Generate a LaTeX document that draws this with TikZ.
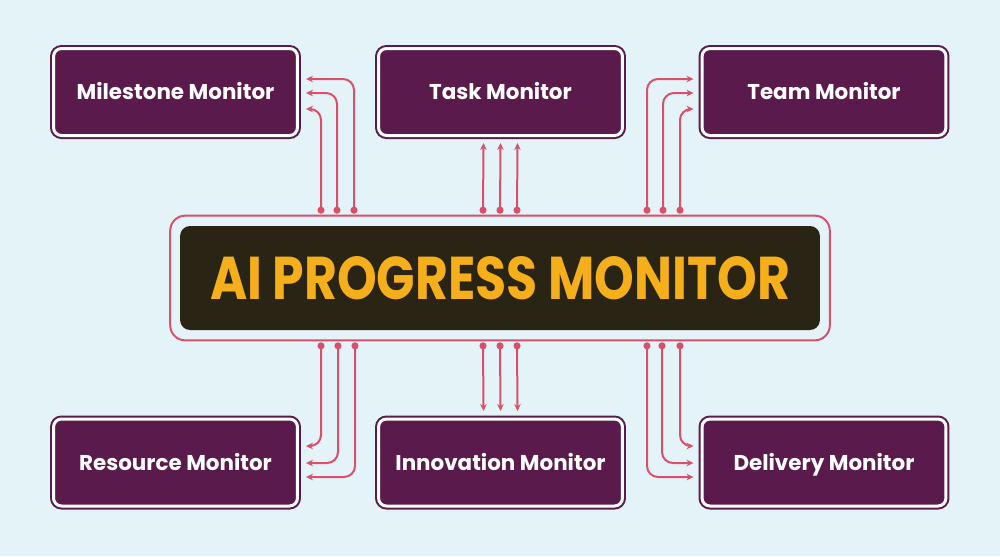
\documentclass[tikz,border=0pt]{standalone}
\usepackage{fontspec}
\setsansfont{Poppins}
\usepackage{xcolor}
\usepackage{tikz}
\usetikzlibrary{calc}
\usetikzlibrary{fit}
\usetikzlibrary{arrows.meta}
\definecolor{bgblue}{HTML}{E4F3F8}
\definecolor{monpurple}{HTML}{5A1B4C}
\definecolor{coredark}{HTML}{2A2414}
\definecolor{coregold}{HTML}{F5AF1B}
\definecolor{linkred}{HTML}{D9506B}
\tikzstyle{monbox} = [fill=monpurple, draw=monpurple, double=white,
double distance=0.06cm, line width=0.04cm, rounded corners=0.16cm,
minimum width=4.88cm, minimum height=1.74cm, outer sep=0pt,
text height=0.88em, text depth=0pt,
text=white, font=\sffamily\bfseries\fontsize{12.2}{14}\selectfont]
\tikzstyle{corebox} = [fill=coredark, rounded corners=0.2cm, inner sep=0pt,
minimum width=12.8cm, minimum height=2.08cm, text=coregold,
font=\sffamily\bfseries]
\tikzstyle{coreframe} = [draw=linkred, line width=0.04cm, rounded corners=0.3cm,
inner xsep=0.19cm, inner ysep=0.2cm, outer sep=0pt]
\tikzstyle{link} = [draw=linkred, line width=0.04cm, rounded corners=0.22cm,
{Circle[length=0.14cm]}-{Stealth[length=0.14cm,width=0.13cm]}]

\begin{document}
\begin{tikzpicture}[x=0.02cm, y=-0.02cm]
        \fill[bgblue] (0,0) rectangle (1000,556);
        \useasboundingbox (0,0) rectangle (1000,556);
        \node [corebox] (core) at (500,278) {\resizebox{11.6cm}{0.86cm}{AI PROGRESS MONITOR}};
        \node [coreframe, fit=(core)] (frame) {};
        \node [monbox] (milestone) at (175.5,92) {Milestone Monitor};
        \node [monbox] (task) at (500.5,92) {Task Monitor};
        \node [monbox] (team) at (824,92) {Team Monitor};
        \node [monbox] (resource) at (175.5,462.5) {Resource Monitor};
        \node [monbox] (innovation) at (500.5,462.5) {Innovation Monitor};
        \node [monbox] (delivery) at (824,462.5) {Delivery Monitor};
        \draw [link] ($(frame.north)+(-179,-2)$) |- ($(milestone.east)+(8.5,17)$);
        \draw [link] ($(frame.north)+(-163,-2)$) |- ($(milestone.east)+(8.5,1)$);
        \draw [link] ($(frame.north)+(-146,-2)$) |- ($(milestone.east)+(8.5,-13)$);
        \draw [link] ($(frame.north)+(-17,-2)$) -- ($(task.south)+(-17,7.5)$);
        \draw [link] ($(frame.north)+(0,-2)$) -- ($(task.south)+(0,7.5)$);
        \draw [link] ($(frame.north)+(17,-2)$) -- ($(task.south)+(17,7.5)$);
        \draw [link] ($(frame.north)+(147,-2)$) |- ($(team.west)+(-8.5,-13)$);
        \draw [link] ($(frame.north)+(163,-2)$) |- ($(team.west)+(-8.5,1)$);
        \draw [link] ($(frame.north)+(180,-2)$) |- ($(team.west)+(-8.5,17)$);
        \draw [link] ($(frame.south)+(-179,2)$) |- ($(resource.east)+(8.5,-16.5)$);
        \draw [link] ($(frame.south)+(-162,2)$) |- ($(resource.east)+(8.5,0.5)$);
        \draw [link] ($(frame.south)+(-145,2)$) |- ($(resource.east)+(8.5,14.5)$);
        \draw [link] ($(frame.south)+(-17,2)$) -- ($(innovation.north)+(-17,-8)$);
        \draw [link] ($(frame.south)+(0,2)$) -- ($(innovation.north)+(0,-8)$);
        \draw [link] ($(frame.south)+(17,2)$) -- ($(innovation.north)+(17,-8)$);
        \draw [link] ($(frame.south)+(147,2)$) |- ($(delivery.west)+(-8.5,14.5)$);
        \draw [link] ($(frame.south)+(162,2)$) |- ($(delivery.west)+(-8.5,0.5)$);
        \draw [link] ($(frame.south)+(180,2)$) |- ($(delivery.west)+(-8.5,-16.5)$);
    \end{tikzpicture}
\end{document}
